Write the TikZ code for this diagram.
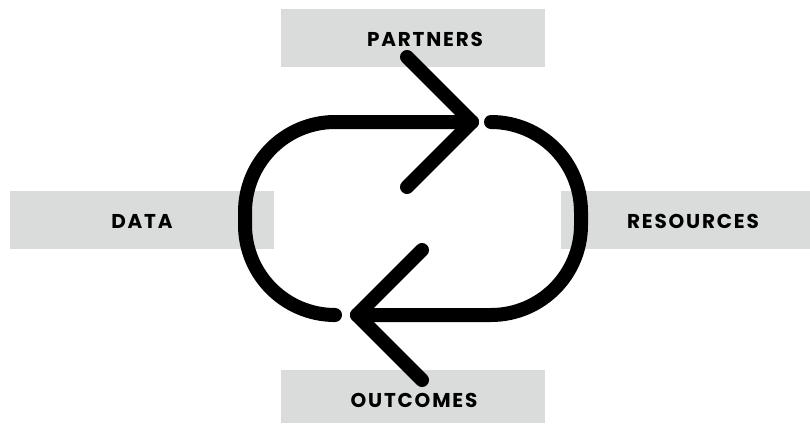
\documentclass[tikz,border=0pt]{standalone}
\usepackage{fontspec}
\setmainfont{Poppins}[UprightFont=* SemiBold, BoldFont=* Bold]
\newfontfamily\labelfont{Poppins Bold}[LetterSpace=9]
\definecolor{boxgray}{HTML}{D9DCDB}
\begin{document}
\begin{tikzpicture}[x=1pt,y=-1pt,
  labelbox/.style={fill=boxgray, draw=none, inner sep=0pt, anchor=north west},
  labeltext/.style={font=\labelfont\fontsize{20}{22}\selectfont, text=black, inner sep=0pt},
  loopline/.style={line width=14pt, line cap=round, line join=round, rounded corners=90pt}]
\useasboundingbox (0,0) rectangle (810,423);
\fill[white] (0,0) rectangle (810,423);
% boxes
\node[labelbox, minimum width=264pt, minimum height=58pt] (bp) at (281,9) {};
\node[labelbox, minimum width=264pt, minimum height=58pt] (bd) at (10,191) {};
\node[labelbox, minimum width=249pt, minimum height=58pt] (br) at (561,191) {};
\node[labelbox, minimum width=264pt, minimum height=53pt] (bo) at (281,370) {};
% texts
\node[labeltext] (tp) at (425,39) {PARTNERS};
\node[labeltext] (td) at (142,221) {DATA};
\node[labeltext] (tr) at (693,221) {RESOURCES};
\node[labeltext] (to) at (414,400) {OUTCOMES};
% loop coordinates
\coordinate (s1) at (333,315);
\coordinate (c1) at (245,315);
\coordinate (c2) at (245,122);
\coordinate (t1) at (472,122);
\coordinate (a1) at (407,57);
\coordinate (a2) at (407,187);
\coordinate (s2) at (493,122);
\coordinate (c3) at (581,122);
\coordinate (c4) at (581,315);
\coordinate (t2) at (357,315);
\coordinate (b1) at (422,250);
\coordinate (b2) at (422,380);
% loop
\draw[loopline] (s1) -- (c1) -- (c2) -- (t1);
\draw[loopline, rounded corners=0pt] (a1) -- (t1) -- (a2);
\draw[loopline] (s2) -- (c3) -- (c4) -- (t2);
\draw[loopline, rounded corners=0pt] (b1) -- (t2) -- (b2);
\end{tikzpicture}
\end{document}
